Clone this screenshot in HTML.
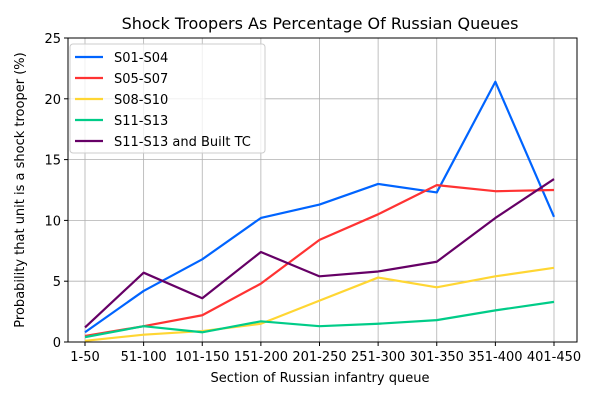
<!DOCTYPE html>
<html><head><meta charset="utf-8"><style>
body{margin:0;background:#fff}
svg{font-family:"DejaVu Sans","Liberation Sans",sans-serif}
</style></head><body>
<svg id="c" width="600" height="400" viewBox="0 0 600 400" xmlns="http://www.w3.org/2000/svg">
<rect width="600" height="400" fill="#fff"/>
<g id="grid" stroke="#b0b0b0" stroke-width="0.8"></g>
<g id="lines" fill="none" stroke-width="2.2" stroke-linejoin="round"></g>
<rect x="68" y="38" width="509" height="304" fill="none" stroke="#000" stroke-width="1"/>
<g id="ticks" font-size="13" fill="#000"></g>
<text x="320" y="29" font-size="16" text-anchor="middle">Shock Troopers As Percentage Of Russian Queues</text>
<text x="320" y="382" font-size="13" text-anchor="middle">Section of Russian infantry queue</text>
<text transform="translate(24,190) rotate(-90)" font-size="13" text-anchor="middle">Probability that unit is a shock trooper (%)</text>
<g font-size="13">
<rect x="70" y="44" width="195" height="109" rx="3" fill="#fff" fill-opacity="0.8" stroke="#ccc"/>
<line x1="75" y1="57" x2="103" y2="57" stroke="#0064ff" stroke-width="2.2"/><text x="114" y="62">S01-S04</text>
<line x1="75" y1="78" x2="103" y2="78" stroke="#ff3333" stroke-width="2.2"/><text x="114" y="83">S05-S07</text>
<line x1="75" y1="99" x2="103" y2="99" stroke="#ffd633" stroke-width="2.2"/><text x="114" y="104">S08-S10</text>
<line x1="75" y1="120" x2="103" y2="120" stroke="#00cc88" stroke-width="2.2"/><text x="114" y="125">S11-S13</text>
<line x1="75" y1="141" x2="103" y2="141" stroke="#660066" stroke-width="2.2"/><text x="114" y="146">S11-S13 and Built TC</text>
</g>
</svg>
<script>
const NS="http://www.w3.org/2000/svg";
const X=i=>85+i*58.625, Y=v=>342-v*12.16;
const cats=["1-50","51-100","101-150","151-200","201-250","251-300","301-350","351-400","401-450"];
const g=document.getElementById("grid"),t=document.getElementById("ticks"),l=document.getElementById("lines");
function el(p,tag,a,txt){const e=document.createElementNS(NS,tag);for(const k in a)e.setAttribute(k,a[k]);if(txt!==undefined)e.textContent=txt;p.appendChild(e);return e;}
cats.forEach((c,i)=>{el(g,"line",{x1:X(i),x2:X(i),y1:38,y2:342});el(t,"line",{x1:X(i),x2:X(i),y1:342,y2:346,stroke:"#000"});el(t,"text",{x:X(i),y:361,"text-anchor":"middle"},c);});
[0,5,10,15,20,25].forEach(v=>{el(g,"line",{x1:68,x2:577,y1:Y(v),y2:Y(v)});el(t,"line",{x1:64,x2:68,y1:Y(v),y2:Y(v),stroke:"#000"});el(t,"text",{x:61,y:Y(v)+5,"text-anchor":"end"},v);});
const S=[["#0064ff",[0.8,4.2,6.8,10.2,11.3,13.0,12.3,21.4,10.3]],
["#ff3333",[0.5,1.3,2.2,4.8,8.4,10.5,12.9,12.4,12.5]],
["#ffd633",[0.1,0.6,0.9,1.5,3.4,5.3,4.5,5.4,6.1]],
["#00cc88",[0.4,1.3,0.8,1.7,1.3,1.5,1.8,2.6,3.3]],
["#660066",[1.2,5.7,3.6,7.4,5.4,5.8,6.6,10.2,13.4]]];
S.forEach(([c,d])=>el(l,"polyline",{stroke:c,points:d.map((v,i)=>X(i)+","+Y(v)).join(" ")}));
</script>
</body></html>
